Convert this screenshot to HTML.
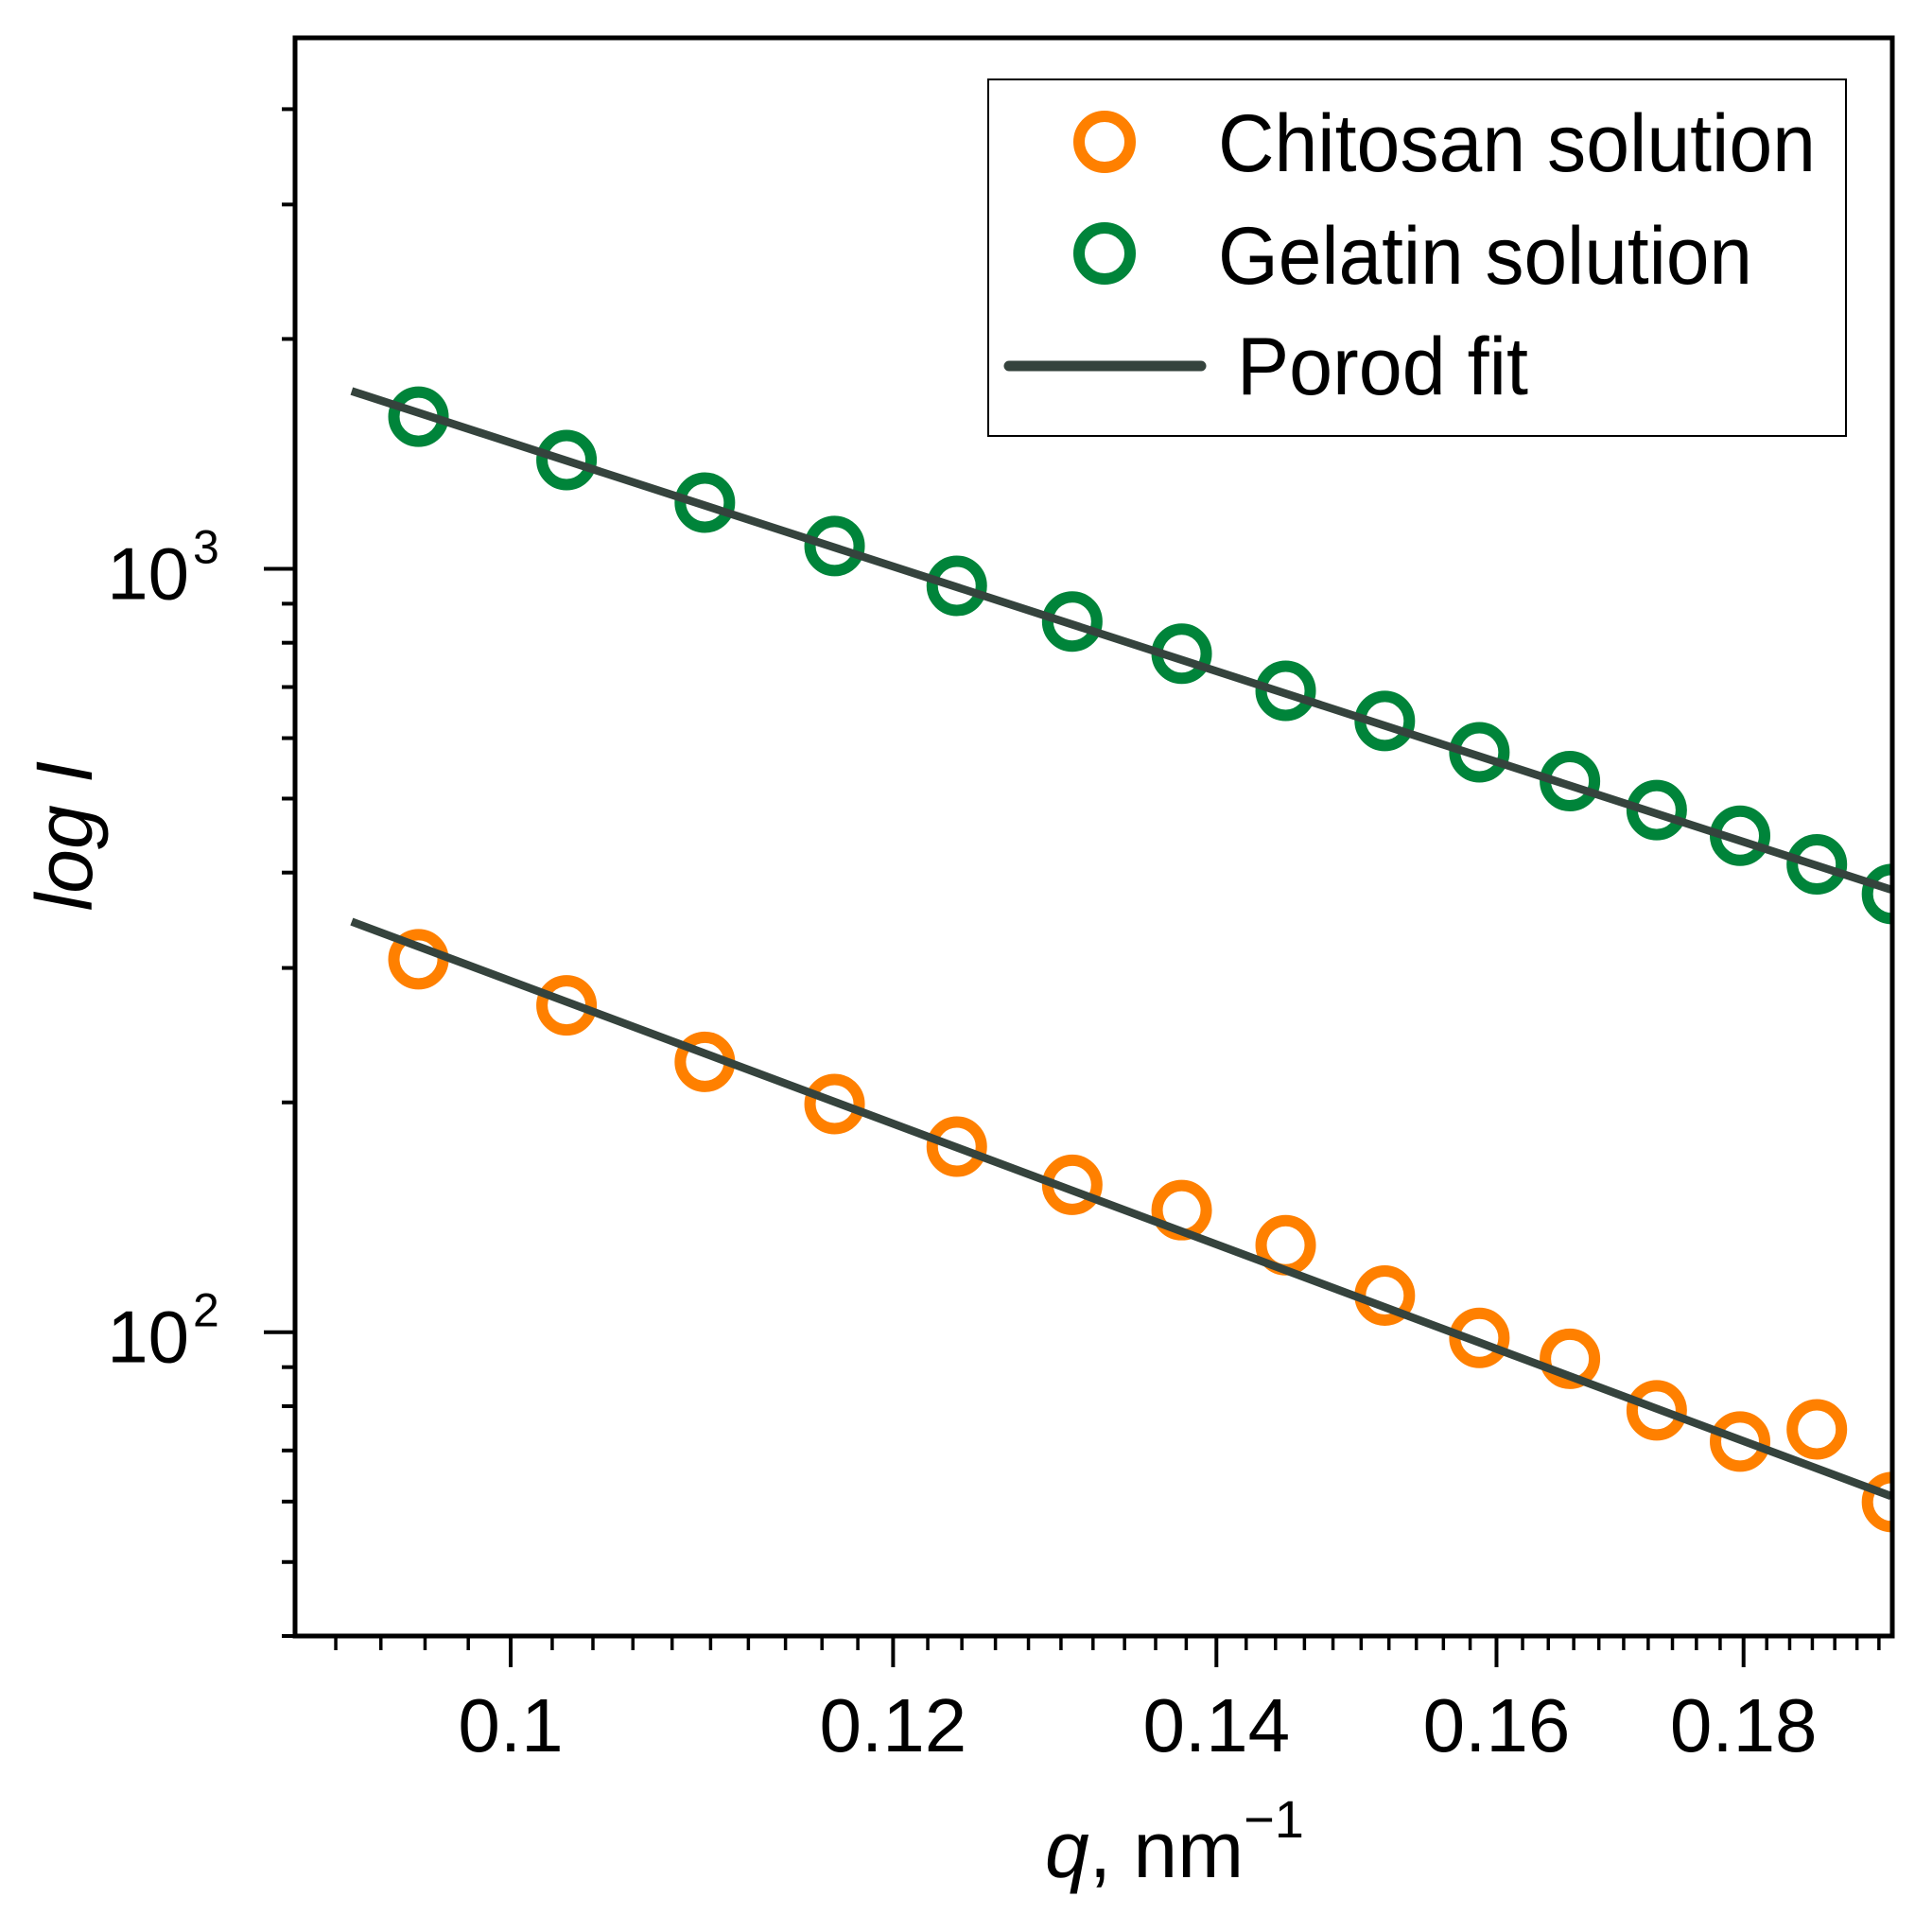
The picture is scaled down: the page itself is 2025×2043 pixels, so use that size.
<!DOCTYPE html>
<html><head><meta charset="utf-8"><style>
html,body{margin:0;padding:0;background:#fff;}
svg{display:block;font-family:"Liberation Sans",sans-serif;}
</style></head><body>
<svg id="chart" width="2025" height="2043" viewBox="0 0 2025 2043" xmlns="http://www.w3.org/2000/svg">
<rect x="0" y="0" width="2025" height="2043" fill="#fff"/>
<g id="plot"></g>
<g>
<rect x="1045" y="84" width="907" height="377" fill="#fff" stroke="#000" stroke-width="2"/>
<circle cx="1168" cy="150" r="27" fill="none" stroke="#ff8000" stroke-width="12"/>
<text x="1288" y="181" font-size="86" textLength="632" lengthAdjust="spacingAndGlyphs">Chitosan solution</text>
<circle cx="1168" cy="268" r="27" fill="none" stroke="#00843a" stroke-width="12"/>
<text x="1288" y="300" font-size="86" textLength="565" lengthAdjust="spacingAndGlyphs">Gelatin solution</text>
<line x1="1067" y1="387" x2="1270" y2="387" stroke="#35433d" stroke-width="11" stroke-linecap="round"/>
<text x="1308" y="417" font-size="86" textLength="308" lengthAdjust="spacingAndGlyphs">Porod fit</text>
</g>
<text x="1105" y="1985" font-size="84"><tspan font-style="italic">q</tspan>, nm<tspan dy="-42" font-size="56">−1</tspan></text>
<text transform="translate(97,884) rotate(-90)" text-anchor="middle" font-size="84" font-style="italic">log I</text>
</svg>
<script>
const qValues = [0.0957,0.1027,0.1097,0.1167,0.1237,0.1307,0.1377,0.1447,0.1517,0.1587,0.1657,0.1727,0.1797,0.1864,0.1932];
const gelatinValues = [1582,1388,1221,1071,950,853,774,692,632,575,527,483,447,410,375];
const chitosanValues = [308,268,226,199,175,156,144.5,130,111.7,98.3,92.3,79,71.9,74.6,59.9];
const fitQ = [0.0927,0.1931];
const gelatinFit = [1709,380];
const chitosanFit = [345,61];
const xMajorTicks = [0.1,0.12,0.14,0.16,0.18];
const xTickLabels = ["0.1","0.12","0.14","0.16","0.18"];
const yMajorTicks = [100,1000];
const yTickExps = ["2","3"];

const NS="http://www.w3.org/2000/svg";
const L=312,R=2001,T=40,B=1730;
const K=2218;
const qMin=0.1*Math.exp((L-540)/K), qMax=0.1*Math.exp((R-540)/K);
const yMin=40, yMax=4960;
const X=q=>L+(Math.log(q)-Math.log(qMin))/(Math.log(qMax)-Math.log(qMin))*(R-L);
const Y=v=>B-(Math.log10(v)-Math.log10(yMin))/(Math.log10(yMax)-Math.log10(yMin))*(B-T);
const plot=document.getElementById('plot');
const svg=document.getElementById('chart');
function mk(tag,attrs,parent){const e=document.createElementNS(NS,tag);for(const k in attrs)e.setAttribute(k,attrs[k]);(parent||plot).appendChild(e);return e;}

const defs=mk('defs',{},svg);
const cp=mk('clipPath',{id:'clip'},defs);
mk('rect',{x:L,y:T,width:R-L,height:B-T},cp);
const inner=mk('g',{'clip-path':'url(#clip)'});



function drawSeries(vals,color,name){
  vals.forEach((v,i)=>{
    const c=mk('circle',{cx:X(qValues[i]),cy:Y(v),r:26,fill:'none',stroke:color,'stroke-width':12},inner);
    
    
  });
}
drawSeries(gelatinValues,'#00843a','gelatin');
drawSeries(chitosanValues,'#ff8000','chitosan');
function drawFit(vals,name){
  const l=mk('line',{x1:X(fitQ[0]),y1:Y(vals[0]),x2:X(fitQ[1]),y2:Y(vals[1]),stroke:'#35433d','stroke-width':8.5},inner);
  
  
}
drawFit(gelatinFit,'gelatin');
drawFit(chitosanFit,'chitosan');

const frame=mk('rect',{x:L,y:T,width:R-L,height:B-T,fill:'none',stroke:'#000','stroke-width':5});



for(let k=46;k<=97;k++){
  const q=k*0.002; if(q<qMin||q>qMax)continue;
  const major=xMajorTicks.some(m=>Math.abs(m-q)<1e-9);
  const t=mk('line',{x1:X(q),x2:X(q),y1:B,y2:B+(major?33:15),stroke:'#000','stroke-width':major?4:3.5});
  
  
}
xMajorTicks.forEach((q,i)=>{
  const t=mk('text',{x:X(q),y:1852,'text-anchor':'middle','font-size':80});
  t.textContent=xTickLabels[i];
  
  
});
for(let d=10;d<=1000;d*=10){
  for(let m=1;m<=9;m++){
    const v=d*m; if(v<yMin-1e-6||v>yMax)continue;
    const major=m===1;
    const t=mk('line',{x1:L,x2:L-(major?33:14),y1:Y(v),y2:Y(v),stroke:'#000','stroke-width':4});
    
    
  }
}
yMajorTicks.forEach((v,i)=>{
  const t=mk('text',{x:200,y:Y(v)+32,'text-anchor':'end','font-size':78});
  t.textContent='10';
  
  
  const s=mk('text',{x:204,y:Y(v)-6,'font-size':50});
  s.textContent=yTickExps[i];
  
  
});
</script>
</body></html>
